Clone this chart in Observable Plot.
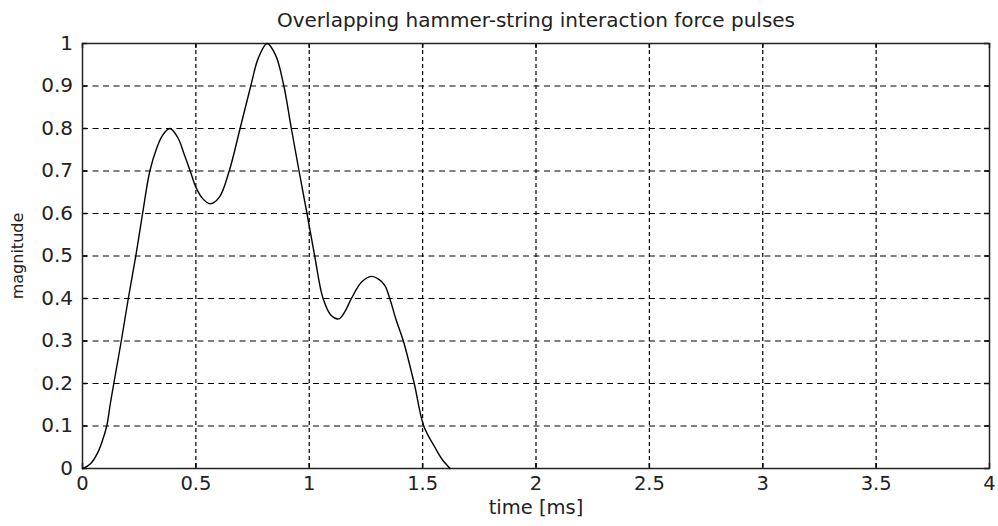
<!DOCTYPE html>
<html>
<head>
<meta charset="utf-8">
<script src="https://cdn.jsdelivr.net/npm/d3@7"></script>
<script src="https://cdn.jsdelivr.net/npm/@observablehq/plot@0.6"></script>
<style>
  html, body { margin: 0; padding: 0; background: #fff; }
</style>
</head>
<body>
<div id="chart"></div>
<script>
// Combined force pulse sampled over time (ms)
const timeMs = [0, 0.006, 0.035, 0.065, 0.088, 0.107, 0.122, 0.138, 0.171, 0.202, 0.235, 0.265, 0.297, 0.326, 0.353, 0.385, 0.419, 0.448, 0.475, 0.5, 0.53, 0.563, 0.603, 0.647, 0.695, 0.742, 0.775, 0.814, 0.852, 0.888, 0.921, 0.955, 0.99, 1.024, 1.061, 1.097, 1.13, 1.156, 1.186, 1.23, 1.274, 1.304, 1.333, 1.355, 1.383, 1.415, 1.463, 1.505, 1.554, 1.584, 1.621];
const magnitude = [0, 0.001, 0.011, 0.035, 0.066, 0.1, 0.15, 0.2, 0.3, 0.4, 0.5, 0.6, 0.7, 0.752, 0.784, 0.8, 0.78, 0.74, 0.7, 0.662, 0.635, 0.623, 0.638, 0.7, 0.8, 0.9, 0.965, 1.0, 0.972, 0.9, 0.8, 0.7, 0.6, 0.5, 0.4, 0.36, 0.352, 0.368, 0.4, 0.438, 0.452, 0.446, 0.431, 0.4, 0.35, 0.3, 0.2, 0.1, 0.05, 0.023, 0];

const xTicks = [0, 0.5, 1, 1.5, 2, 2.5, 3, 3.5, 4];
const yTicks = [0, 0.1, 0.2, 0.3, 0.4, 0.5, 0.6, 0.7, 0.8, 0.9, 1];

const titleText = "Overlapping hammer-string interaction force pulses";
const xLabel = "time [ms]";
const yLabel = "magnitude";

const pulse = timeMs.map((t, i) => ({t, m: magnitude[i]}));

const W = 998, H = 526;
const mL = 82, mR = 9, mT = 43, mB = 58;
const innerW = W - mL - mR, innerH = H - mT - mB;
const tickLen = 5;
const inner = (a) => a.slice(1, -1);
const fmt = (d) => String(d);

const chart = Plot.plot({
  width: W,
  height: H,
  marginLeft: mL,
  marginRight: mR,
  marginTop: mT,
  marginBottom: mB,
  style: {fontFamily: "'DejaVu Sans', sans-serif", fontSize: "20px", color: "#000", background: "#fff", overflow: "visible"},
  x: {domain: [0, 4]},
  y: {domain: [0, 1]},
  marks: [
    // dashed grid
    Plot.gridX(inner(xTicks), {stroke: "#000", strokeOpacity: 1, strokeWidth: 1.2, strokeDasharray: "4,3"}),
    Plot.gridY(inner(yTicks), {stroke: "#000", strokeOpacity: 1, strokeWidth: 1.2, strokeDasharray: "6,4.5"}),
    // inward tick marks on all four sides
    Plot.tickX(xTicks, {x: d => d, stroke: "#000", strokeWidth: 1.5, insetTop: innerH - tickLen}),
    Plot.tickX(xTicks, {x: d => d, stroke: "#000", strokeWidth: 1.5, insetBottom: innerH - tickLen}),
    Plot.tickY(yTicks, {y: d => d, stroke: "#000", strokeWidth: 1.5, insetRight: innerW - tickLen}),
    Plot.tickY(yTicks, {y: d => d, stroke: "#000", strokeWidth: 1.5, insetLeft: innerW - tickLen}),
    Plot.frame({stroke: "#222", strokeWidth: 1.5}),
    Plot.axisX(xTicks, {tickSize: 0, tickPadding: 8, tickFormat: fmt, label: null, fill: "#222", fontSize: 19.5}),
    Plot.axisY(yTicks, {tickSize: 0, tickPadding: 9.5, tickFormat: fmt, label: null, fill: "#222", fontSize: 20}),
    // force curve
    Plot.line(pulse, {x: "t", y: "m", stroke: "#000", strokeWidth: 1.4, curve: "catmull-rom"}),
    // labels
    Plot.text([titleText], {frameAnchor: "top", dy: -31, fontSize: 20, fill: "#222"}),
    Plot.text([xLabel], {frameAnchor: "bottom", dy: 45, fontSize: 19.5, fill: "#222"}),
    Plot.text([yLabel], {frameAnchor: "left", textAnchor: "middle", dx: -65, rotate: -90, fontSize: 16, fill: "#222"})
  ]
});

document.getElementById("chart").appendChild(chart);
</script>
</body>
</html>
